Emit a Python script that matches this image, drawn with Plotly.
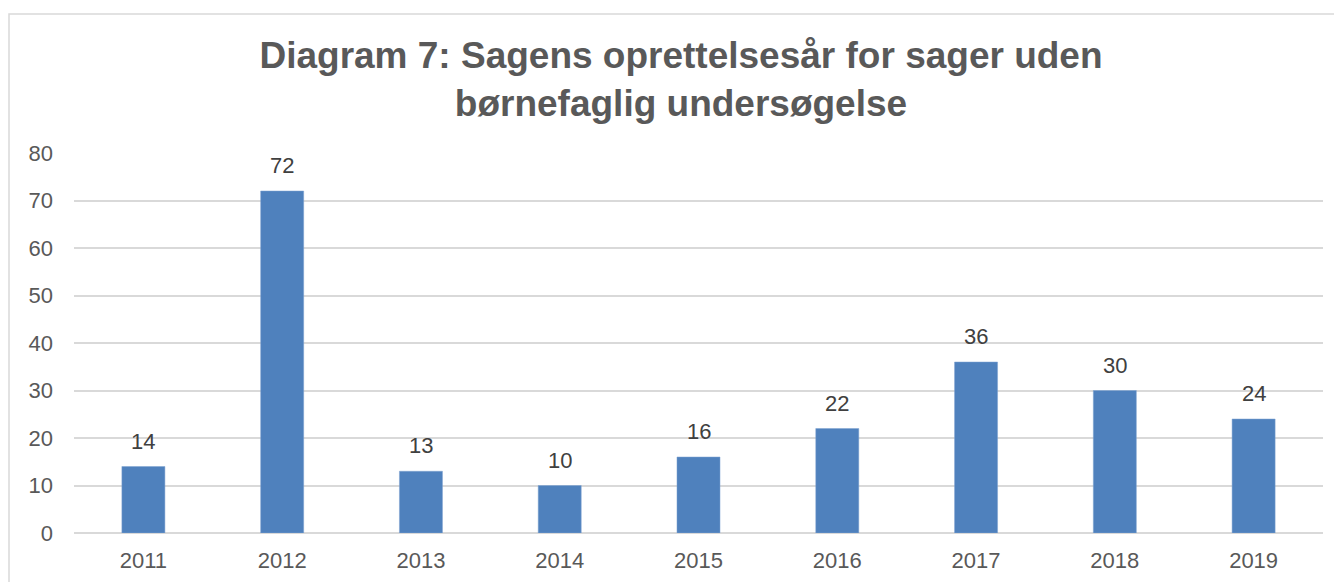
import plotly.graph_objects as go

years = [2011, 2012, 2013, 2014, 2015, 2016, 2017, 2018, 2019]
counts = [14, 72, 13, 10, 16, 22, 36, 30, 24]
y_ticks = [0, 10, 20, 30, 40, 50, 60, 70, 80]

W, H = 1342, 582
ml, mr, mt, mb = 66, 27, 145, 57
pw = W - ml - mr
ph = H - mt - mb

FONT = "Liberation Sans, Arial, sans-serif"

fig = go.Figure()
fig.add_trace(go.Bar(
    x=years, y=counts,
    marker=dict(color="#4F81BD", line=dict(color="#7FA3D1", width=0.5)),
    hoverinfo="x+y",
))

for yr, v in zip(years, counts):
    fig.add_annotation(x=yr, y=v, text=str(v), showarrow=False,
                       yanchor="bottom", yshift=11,
                       font=dict(family=FONT, size=22, color="#404040"))

def px2x(p):
    return (p - ml) / pw

def px2y(p):
    return (H - mb - p) / ph

fig.add_shape(type="rect", xref="paper", yref="paper",
              x0=px2x(1), x1=px2x(1360), y0=px2y(620), y1=px2y(6),
              line=dict(color="#D9D9D9", width=1.5), fillcolor="rgba(0,0,0,0)", layer="below")

fig.update_layout(
    width=W, height=H,
    margin=dict(l=ml, r=mr, t=mt, b=mb, autoexpand=False),
    paper_bgcolor="white", plot_bgcolor="white",
    bargap=0.69,
    showlegend=False,
    title=dict(text="Diagram 7: Sagens oprettelsesår for sager uden<br>børnefaglig undersøgelse",
               x=673 / W, xanchor="center", y=1 - 60 / H, yanchor="top",
               font=dict(family=FONT, size=37, color="#595959", weight="bold")),
    font=dict(family=FONT, size=22, color="#595959"),
)
fig.update_xaxes(range=[years[0] - 0.5, years[-1] + 0.5], tickvals=years, ticktext=[str(y) for y in years],
                 showgrid=False, showline=False, zeroline=False, ticks="", ticklabelstandoff=12,
                 tickfont=dict(family=FONT, size=22, color="#595959"))
fig.update_yaxes(range=[0, 80], tickvals=y_ticks, showgrid=True, gridcolor="#D9D9D9", gridwidth=1.5,
                 zeroline=True, zerolinecolor="#D9D9D9", zerolinewidth=1.5,
                 showline=False, ticks="", ticklabelstandoff=20,
                 tickfont=dict(family=FONT, size=22, color="#595959"))

fig.write_html("out.html")
